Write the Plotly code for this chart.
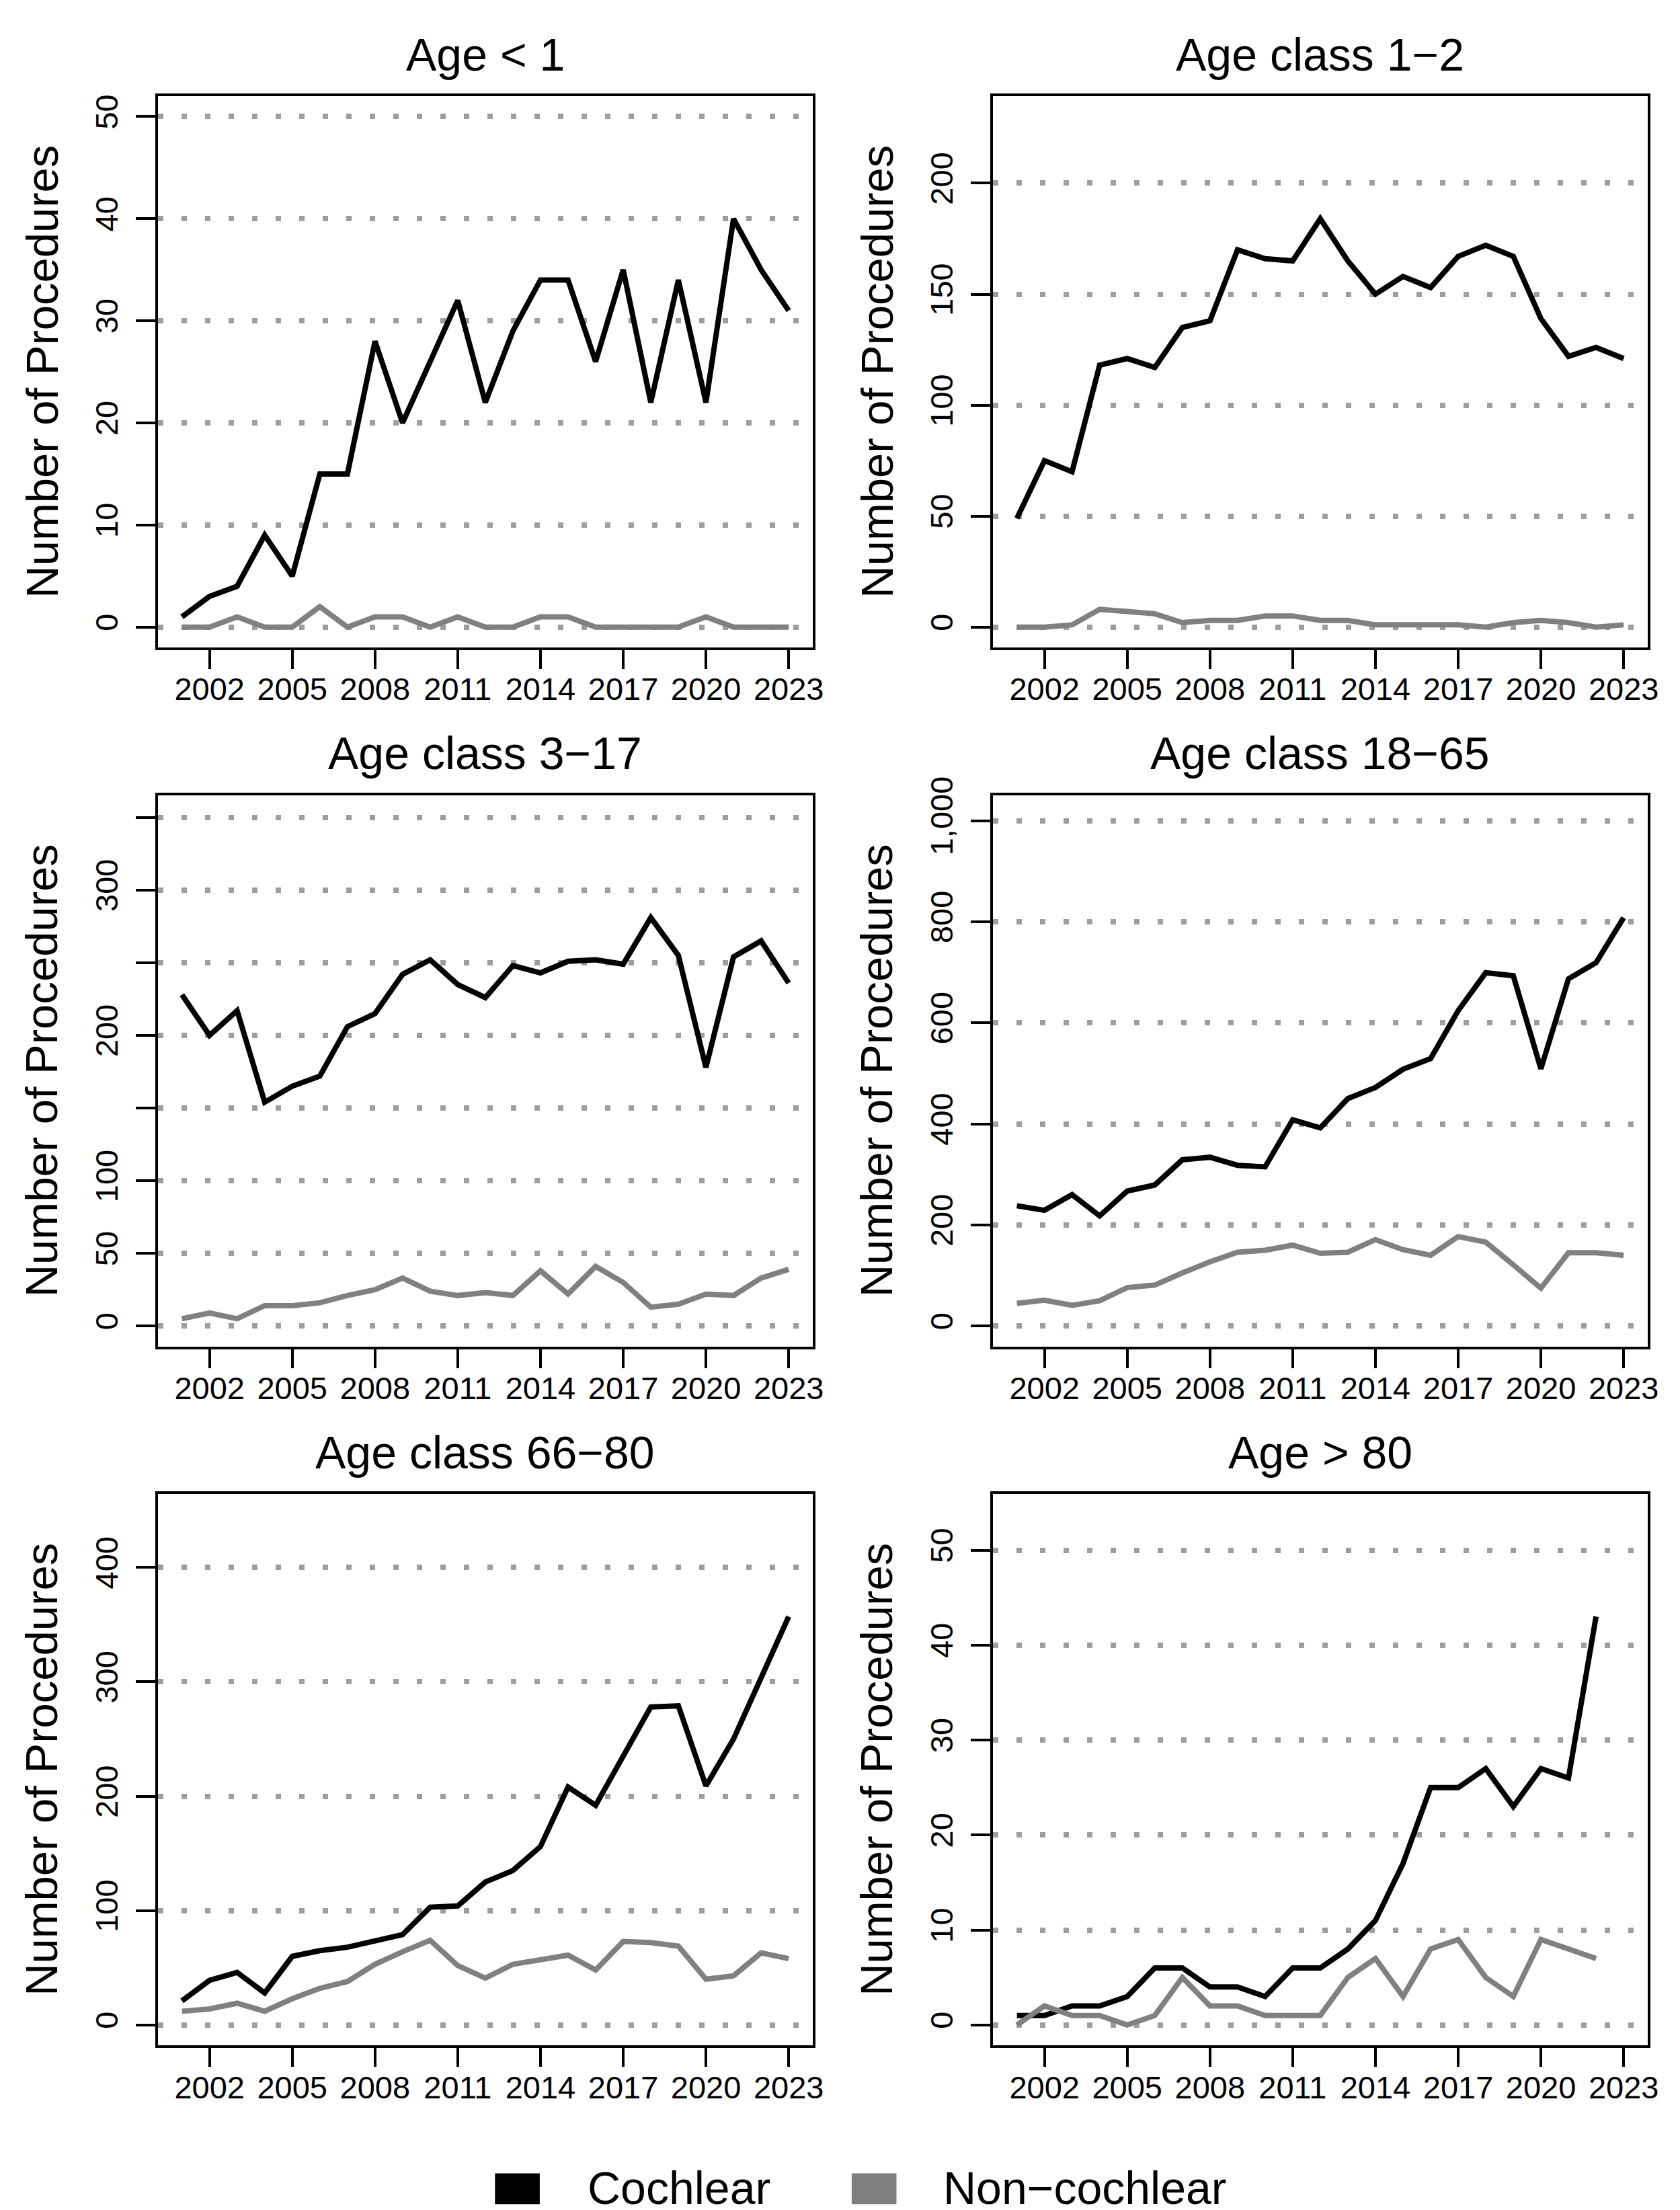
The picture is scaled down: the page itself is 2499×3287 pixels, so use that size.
import plotly.graph_objects as go
from plotly.subplots import make_subplots

years = list(range(2001, 2024))

titles = ["Age < 1", "Age class 1\u22122", "Age class 3\u221217",
          "Age class 18\u221265", "Age class 66\u221280", "Age > 80"]

coch_lt1 = [1, 3, 4, 9, 5, 15, 15, 28, 20, 26, 32, 22, 29, 34, 34, 26, 35, 22, 34, 22, 40, 35, 31]
non_lt1 = [0, 0, 1, 0, 0, 2, 0, 1, 1, 0, 1, 0, 0, 1, 1, 0, 0, 0, 0, 1, 0, 0, 0]

coch_1_2 = [49, 75, 70, 118, 121, 117, 135, 138, 170, 166, 165, 184, 165, 150, 158, 153, 167, 172, 167, 139, 122, 126, 121]
non_1_2 = [0, 0, 1, 8, 7, 6, 2, 3, 3, 5, 5, 3, 3, 1, 1, 1, 1, 0, 2, 3, 2, 0, 1]

coch_3_17 = [228, 200, 217, 154, 165, 172, 206, 215, 242, 252, 235, 226, 248, 243, 251, 252, 249, 281, 255, 178, 254, 265, 236]
non_3_17 = [5, 9, 5, 14, 14, 16, 21, 25, 33, 24, 21, 23, 21, 38, 22, 41, 30, 13, 15, 22, 21, 33, 39]

coch_18_65 = [238, 229, 260, 218, 267, 279, 329, 334, 318, 315, 408, 392, 450, 472, 508, 529, 624, 699, 693, 509, 687, 719, 808]
non_18_65 = [45, 51, 41, 50, 76, 81, 105, 127, 146, 150, 160, 144, 146, 171, 151, 140, 177, 166, 121, 75, 145, 145, 140]

coch_66_80 = [21, 39, 46, 28, 60, 65, 68, 74, 79, 103, 104, 125, 135, 156, 208, 192, 235, 278, 279, 209, 250, 303, 357]
non_66_80 = [12, 14, 19, 12, 23, 32, 38, 53, 64, 74, 52, 41, 53, 57, 61, 48, 73, 72, 69, 40, 43, 63, 58]

coch_gt80 = [1, 1, 2, 2, 3, 6, 6, 4, 4, 3, 6, 6, 8, 11, 17, 25, 25, 27, 23, 27, 26, 43, None]
non_gt80 = [0, 2, 1, 1, 0, 1, 5, 2, 2, 1, 1, 1, 5, 7, 3, 8, 9, 5, 3, 9, 8, 7, None]

cochlear = [coch_lt1, coch_1_2, coch_3_17, coch_18_65, coch_66_80, coch_gt80]
noncochlear = [non_lt1, non_1_2, non_3_17, non_18_65, non_66_80, non_gt80]

ytickvals = [
    [0, 10, 20, 30, 40, 50],
    [0, 50, 100, 150, 200],
    [0, 50, 100, 150, 200, 250, 300, 350],
    [0, 200, 400, 600, 800, 1000],
    [0, 100, 200, 300, 400],
    [0, 10, 20, 30, 40, 50],
]
yticktext = [
    ["0", "10", "20", "30", "40", "50"],
    ["0", "50", "100", "150", "200"],
    ["0", "50", "100", "", "200", "", "300", ""],
    ["0", "200", "400", "600", "800", "1,000"],
    ["0", "100", "200", "300", "400"],
    ["0", "10", "20", "30", "40", "50"],
]
xtickvals = [2002, 2005, 2008, 2011, 2014, 2017, 2020, 2023]
xticktext = [str(v) for v in xtickvals]

legend_labels = ["Cochlear", "Non\u2212cochlear"]
BLACK = "#000000"
GRAY = "#808080"

W, H = 2499, 3287
FONT = "Liberation Sans"
box_w, box_h = 981, 827
cols_left = [228, 1478]
rows_top = [108, 1156.5, 2205]

fig = make_subplots(rows=3, cols=2)

def px_x(p):
    return p / W

def px_y(p):
    return 1 - p / H

for i in range(6):
    r, c = i // 2, i % 2
    x0 = cols_left[c]
    y0 = rows_top[r]
    fig.add_trace(go.Scatter(x=years, y=cochlear[i], mode="lines",
                             line=dict(color=BLACK, width=8), showlegend=False,
                             name=legend_labels[0], connectgaps=False),
                  row=r + 1, col=c + 1)
    fig.add_trace(go.Scatter(x=years, y=noncochlear[i], mode="lines",
                             line=dict(color=GRAY, width=8), showlegend=False,
                             name=legend_labels[1], connectgaps=False),
                  row=r + 1, col=c + 1)
    ymax = 1.25 * max(v for v in cochlear[i] if v is not None)
    yr = [-0.04 * ymax, 1.04 * ymax]
    span = years[-1] - years[0]
    xr = [years[0] - 0.04 * span, years[-1] + 0.04 * span]
    fig.update_xaxes(row=r + 1, col=c + 1,
                     domain=[px_x(x0), px_x(x0 + box_w)],
                     range=xr, tickmode="array", tickvals=xtickvals, ticktext=xticktext,
                     ticks="outside", ticklen=28, tickwidth=3.5, tickcolor=BLACK,
                     showline=True, mirror=True, linewidth=4, linecolor=BLACK,
                     showgrid=False, zeroline=False, ticklabelstandoff=-10,
                     tickfont=dict(family=FONT, size=47, color=BLACK))
    fig.update_yaxes(row=r + 1, col=c + 1,
                     domain=[px_y(y0 + box_h), px_y(y0)],
                     range=yr, tickmode="array", tickvals=ytickvals[i], ticktext=yticktext[i],
                     tickangle=-90, ticks="outside", ticklen=29, tickwidth=3.5, tickcolor=BLACK,
                     showline=True, mirror=True, linewidth=4, linecolor=BLACK,
                     showgrid=True, gridcolor="#9E9E9E", gridwidth=8, griddash="8px,27px",
                     zeroline=False, ticklabelstandoff=8,
                     tickfont=dict(family=FONT, size=47, color=BLACK))
    # panel title
    fig.add_annotation(text=titles[i], xref="paper", yref="paper",
                       x=px_x(x0 + box_w / 2), y=px_y(y0 - 63), xanchor="center", yanchor="middle",
                       showarrow=False, font=dict(family=FONT, size=68, color=BLACK))
    # y axis title
    fig.add_annotation(text="Number of Procedures", xref="paper", yref="paper",
                       x=px_x(x0 - 174), y=px_y(y0 + box_h / 2), xanchor="center", yanchor="middle",
                       textangle=-90, showarrow=False,
                       font=dict(family=FONT, size=67, color=BLACK))

# legend (bottom, centered)
leg_items = [(733, 800, 870, legend_labels[0], BLACK), (1267, 1334, 1402, legend_labels[1], GRAY)]
for sx0, sx1, tx, lab, col in leg_items:
    fig.add_shape(type="rect", xref="paper", yref="paper",
                  x0=px_x(sx0), x1=px_x(sx1), y0=px_y(3270), y1=px_y(3224),
                  fillcolor=col, line=dict(width=0))
    fig.add_annotation(text=lab, xref="paper", yref="paper", x=px_x(tx), y=px_y(3246),
                       xanchor="left", yanchor="middle", showarrow=False,
                       font=dict(family=FONT, size=68, color=BLACK))

fig.update_layout(width=W, height=H, margin=dict(l=0, r=0, t=0, b=0),
                  paper_bgcolor="white", plot_bgcolor="white", showlegend=False,
                  font=dict(family=FONT, color=BLACK))

fig.write_html("out.html")
